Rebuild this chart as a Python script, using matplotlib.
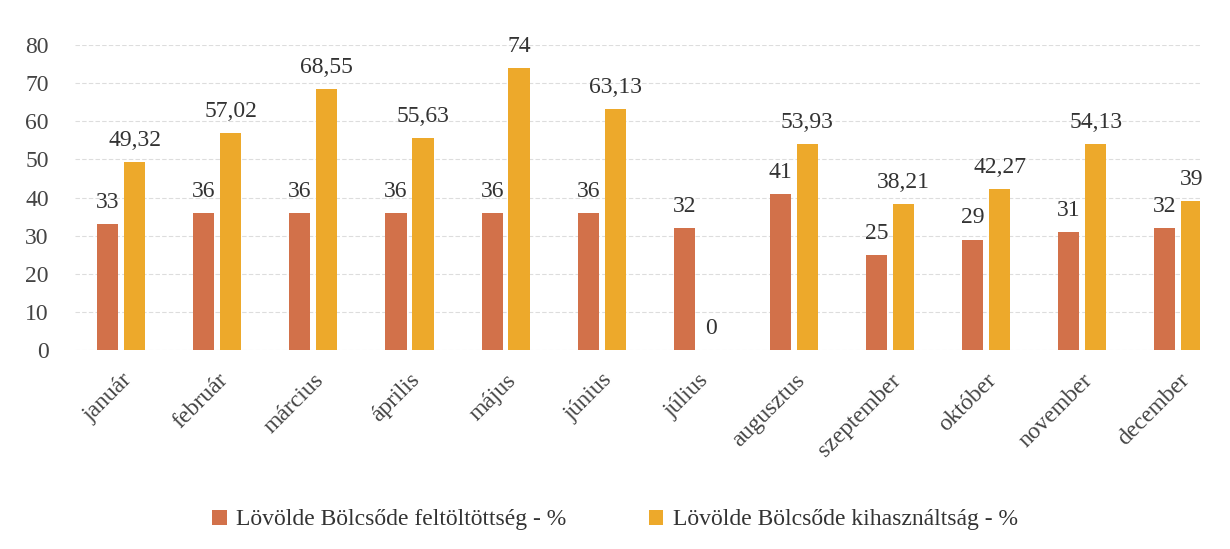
import matplotlib
matplotlib.use("Agg")
import matplotlib.pyplot as plt
import numpy as np

months = ["január", "február", "március", "április", "május", "június",
          "július", "augusztus", "szeptember", "október", "november", "december"]
feltoltottseg = [33, 36, 36, 36, 36, 36, 32, 41, 25, 29, 31, 32]
kihasznaltsag = [49.32, 57.02, 68.55, 55.63, 74, 63.13, 0, 53.93, 38.21, 42.27, 54.13, 39]
series_names = ["Lövölde Bölcsőde feltöltöttség - %", "Lövölde Bölcsőde kihasználtság - %"]
colors = ["#D2714A", "#EDA92B"]

plt.rcParams['font.family'] = ['Liberation Serif', 'DejaVu Serif']

fig = plt.figure(figsize=(12.3, 5.49), dpi=100)
ax = fig.add_axes([0.061, 0.362, 0.915, 0.556])

x = np.arange(len(months))
w = 0.22
off = 0.14
b1 = ax.bar(x - off, feltoltottseg, w, color=colors[0], label=series_names[0], zorder=3)
b2 = ax.bar(x + off, kihasznaltsag, w, color=colors[1], label=series_names[1], zorder=3)

def fmt(v):
    if float(v).is_integer():
        return str(int(v))
    return f"{v:.2f}".replace(".", ",")

for bars, vals in ((b1, feltoltottseg), (b2, kihasznaltsag)):
    for rect, v in zip(bars, vals):
        ax.annotate(fmt(v), (rect.get_x() + rect.get_width() / 2, v),
                    xytext=(0, 8), textcoords="offset points",
                    ha="center", va="bottom", fontsize=17, color="#333333",
                    annotation_clip=False)

ax.set_ylim(0, 80)
ax.set_xlim(-0.48, 11.23)
ax.set_yticks(range(0, 81, 10))
ax.yaxis.grid(True, color="#dddddd", linewidth=0.8, linestyle=(0, (4, 2)), zorder=0)
ax.set_xticks(x)
ax.set_xticklabels(months, rotation=45, ha="right", va="top", rotation_mode="anchor")
ax.tick_params(axis="both", length=0, labelsize=17, labelcolor="#444444")
ax.tick_params(axis="x", pad=14)
ax.tick_params(axis="y", pad=19)
for s in ax.spines.values():
    s.set_visible(False)

leg = fig.legend(handles=[b1, b2], labels=series_names, loc="lower center",
                 bbox_to_anchor=(0.5, -0.005), ncol=2, frameon=False, fontsize=17,
                 handlelength=0.6, handleheight=0.6, columnspacing=3.5, handletextpad=0.4)
for t in leg.get_texts():
    t.set_color("#333333")

fig.savefig("out.png", dpi=100)
